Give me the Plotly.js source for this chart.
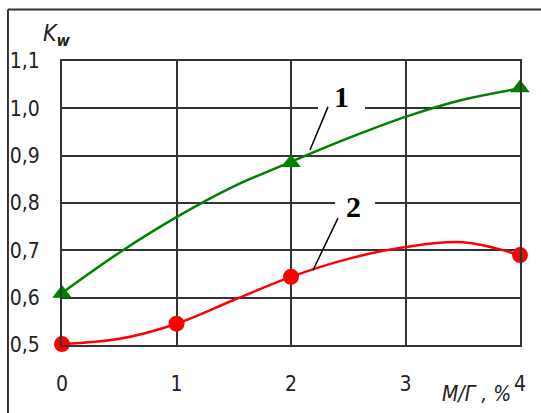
<!DOCTYPE html>
<html>
<head>
<meta charset="utf-8">
<script src="https://cdn.plot.ly/plotly-3.0.1.min.js"></script>
<style>html,body{margin:0;padding:0;background:#fff;}#chart{width:541px;height:413px;}</style>
</head>
<body>
<div id="chart"></div>
<script>
// Curve 1 (green)
var curve1X = [0, 0.5, 1, 1.5, 2, 2.5, 3, 3.5, 4];
var curve1Y = [0.61, 0.695, 0.77, 0.835, 0.887, 0.937, 0.982, 1.018, 1.042];
var points1X = [0, 2, 4];
var points1Y = [0.609, 0.885, 1.043];
// Curve 2 (red)
var curve2X = [0, 0.5, 1, 1.5, 2, 2.5, 3, 3.5, 4];
var curve2Y = [0.502, 0.513, 0.545, 0.595, 0.644, 0.682, 0.707, 0.717, 0.69];
var points2X = [0, 1, 2, 4];
var points2Y = [0.502, 0.545, 0.644, 0.69];
// Ticks
var xTickVals = [0, 1, 2, 3, 4];
var xTickText = ['0', '1', '2', '3', '4'];
var yTickVals = [0.5, 0.6, 0.7, 0.8, 0.9, 1.0, 1.1];
var yTickText = ['0,5', '0,6', '0,7', '0,8', '0,9', '1,0', '1,1'];
// Labels
var label1 = '1', label2 = '2';
var xTitle = '<i>M/Г , %</i>';
var yTitle = '<i>K</i><sub><i><b>w</b></i></sub>';

var tickFont = {family: 'Liberation Sans Narrow, DejaVu Sans Condensed, Liberation Sans, sans-serif', size: 21, color: '#222'};
var green = '#008000', red = '#ff0000';

var traces = [
  {x: curve1X, y: curve1Y, mode: 'lines', line: {color: green, width: 2.5, shape: 'spline'}, hoverinfo: 'skip', cliponaxis: false},
  {x: points1X, y: points1Y, mode: 'markers', marker: {symbol: 'triangle-up', size: 17, color: green}, cliponaxis: false},
  {x: curve2X, y: curve2Y, mode: 'lines', line: {color: red, width: 2.5, shape: 'spline'}, hoverinfo: 'skip', cliponaxis: false},
  {x: points2X, y: points2Y, mode: 'markers', marker: {symbol: 'circle', size: 16, color: red}, cliponaxis: false}
];

var layout = {
  width: 541, height: 413,
  margin: {l: 62, r: 21, t: 61, b: 68, pad: 0},
  paper_bgcolor: '#fff', plot_bgcolor: '#fff',
  showlegend: false,
  xaxis: {
    range: [0, 4], tickvals: xTickVals, ticktext: xTickText,
    showgrid: true, gridcolor: '#333', gridwidth: 2,
    showline: true, mirror: true, linecolor: '#333', linewidth: 2,
    zeroline: false, ticks: '', tickfont: tickFont, ticklabelstandoff: 19
  },
  yaxis: {
    range: [0.5, 1.1], tickvals: yTickVals, ticktext: yTickText,
    showgrid: true, gridcolor: '#333', gridwidth: 2,
    showline: true, mirror: true, linecolor: '#333', linewidth: 2,
    zeroline: false, ticks: '', tickfont: tickFont, ticklabelstandoff: 16
  },
  shapes: [
    // outer frame (top and left)
    {type: 'line', xref: 'paper', yref: 'paper', x0: -0.118, x1: 1.05, y0: 1.181, y1: 1.181, line: {color: '#333', width: 2}},
    {type: 'line', xref: 'paper', yref: 'paper', x0: -0.118, x1: -0.118, y0: 1.181, y1: -0.25, line: {color: '#333', width: 2}},
    // white gaps behind labels
    {type: 'rect', xref: 'x', yref: 'y', x0: 2.236, x1: 2.646, y0: 0.99, y1: 1.01, fillcolor: '#fff', line: {width: 0}, layer: 'above'},
    {type: 'rect', xref: 'x', yref: 'y', x0: 2.384, x1: 2.734, y0: 0.79, y1: 0.81, fillcolor: '#fff', line: {width: 0}, layer: 'above'},
    // leader lines
    {type: 'line', xref: 'x', yref: 'y', x0: 2.166, y0: 0.912, x1: 2.323, y1: 1.003, line: {color: '#000', width: 1.5}, layer: 'above'},
    {type: 'line', xref: 'x', yref: 'y', x0: 2.192, y0: 0.658, x1: 2.41, y1: 0.768, line: {color: '#000', width: 1.5}, layer: 'above'}
  ],
  annotations: [
    {x: 2.445, y: 1.024, xref: 'x', yref: 'y', text: '<b>' + label1 + '</b>', showarrow: false,
     font: {family: 'Liberation Serif, serif', size: 30, color: '#000'}},
    {x: 2.55, y: 0.792, xref: 'x', yref: 'y', text: '<b>' + label2 + '</b>', showarrow: false,
     font: {family: 'Liberation Serif, serif', size: 30, color: '#000'}},
    {x: 0.985, y: -0.172, xref: 'paper', yref: 'paper', xanchor: 'right', yanchor: 'middle', text: xTitle, showarrow: false,
     font: tickFont},
    {x: -0.045, y: 1.09, xref: 'paper', yref: 'paper', xanchor: 'left', yanchor: 'middle', text: yTitle, showarrow: false,
     font: {family: tickFont.family, size: 23, color: '#222'}}
  ]
};

Plotly.newPlot('chart', traces, layout, {displayModeBar: false, staticPlot: true});
</script>
</body>
</html>
